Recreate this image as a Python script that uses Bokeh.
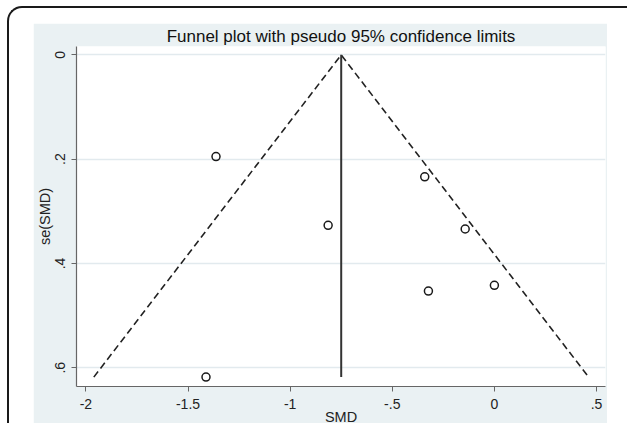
from bokeh.plotting import figure
from bokeh.models import Range1d, FixedTicker, ColumnDataSource
from bokeh.layouts import column
from bokeh.embed import file_html
from bokeh.resources import INLINE

# Study data
smd = [-1.363, -0.341, -0.814, -0.143, -0.323, 0.0, -1.412]
se = [0.195, 0.234, 0.327, 0.334, 0.453, 0.442, 0.618]
pooled = -0.75

x_ticks = [-2, -1.5, -1, -0.5, 0, 0.5]
x_labels = ["-2", "-1.5", "-1", "-.5", "0", ".5"]
y_ticks = [0, 0.2, 0.4, 0.6]
y_labels = ["0", ".2", ".4", ".6"]

se_max = max(se)
funnel_x = [pooled - 1.96 * se_max, pooled, pooled + 1.96 * se_max]
funnel_y = [se_max, 0, se_max]

BLUE = "#eaf1f3"
FONT = "Liberation Sans"

p = figure(width=574, height=407,
           x_range=Range1d(-2.046, 0.544), y_range=Range1d(0.636, -0.016),
           output_backend="svg", toolbar_location=None,
           title="Funnel plot with pseudo 95% confidence limits",
           min_border_left=43, min_border_right=2, min_border_top=21, min_border_bottom=44,
           background_fill_color="white", border_fill_color=BLUE,
           outline_line_color=None)

p.title.align = "center"
p.title.text_font = FONT
p.title.text_font_size = "17px"
p.title.text_font_style = "normal"
p.title.text_color = "#111111"
p.title.standoff = 2

for ax in (p.xaxis, p.yaxis):
    ax.axis_line_color = "#666666"
    ax.axis_line_width = 1.2
    ax.major_tick_line_color = "#666666"
    ax.major_tick_out = 5
    ax.major_tick_in = 0
    ax.minor_tick_line_color = None
    ax.major_label_text_font = FONT
    ax.major_label_text_font_size = "14px"
    ax.major_label_text_color = "#222222"
    ax.axis_label_text_font = FONT
    ax.axis_label_text_font_size = "14.5px"
    ax.axis_label_text_font_style = "normal"
    ax.axis_label_text_color = "#222222"

p.xaxis.ticker = FixedTicker(ticks=x_ticks)
p.xaxis.major_label_overrides = dict(zip(x_ticks, x_labels))
p.xaxis.axis_label = "SMD"
p.xaxis.major_label_standoff = 7
p.xaxis.axis_label_standoff = -3

p.yaxis.ticker = FixedTicker(ticks=y_ticks)
p.yaxis.major_label_overrides = dict(zip(y_ticks, y_labels))
p.yaxis.axis_label = "se(SMD)"
p.yaxis.major_label_orientation = "vertical"
p.yaxis.major_label_standoff = 6
p.yaxis.axis_label_standoff = 0

p.xgrid.visible = False
p.ygrid.ticker = FixedTicker(ticks=y_ticks)
p.ygrid.grid_line_color = "#e2eaee"
p.ygrid.grid_line_width = 1.5

p.line(funnel_x, funnel_y, line_color="#222222", line_width=1.6, line_dash="7 4")
p.line([pooled, pooled], [0, se_max], line_color="#333333", line_width=2)

src = ColumnDataSource(dict(smd=smd, se=se))
p.scatter("smd", "se", source=src, marker="circle", size=8, fill_color=None,
          line_color="#1a1a1a", line_width=1.5)

p.margin = (15, 0, 0, 24)

layout = column(p, width=620, height=417,
                styles={"border-top": "2px solid #1a1a1a",
                        "border-left": "2px solid #1a1a1a",
                        "border-top-left-radius": "15px",
                        "background-color": "white",
                        "overflow": "hidden"})
layout.margin = (6, 0, 0, 7)

open("out.html", "w").write(file_html(layout, INLINE))
